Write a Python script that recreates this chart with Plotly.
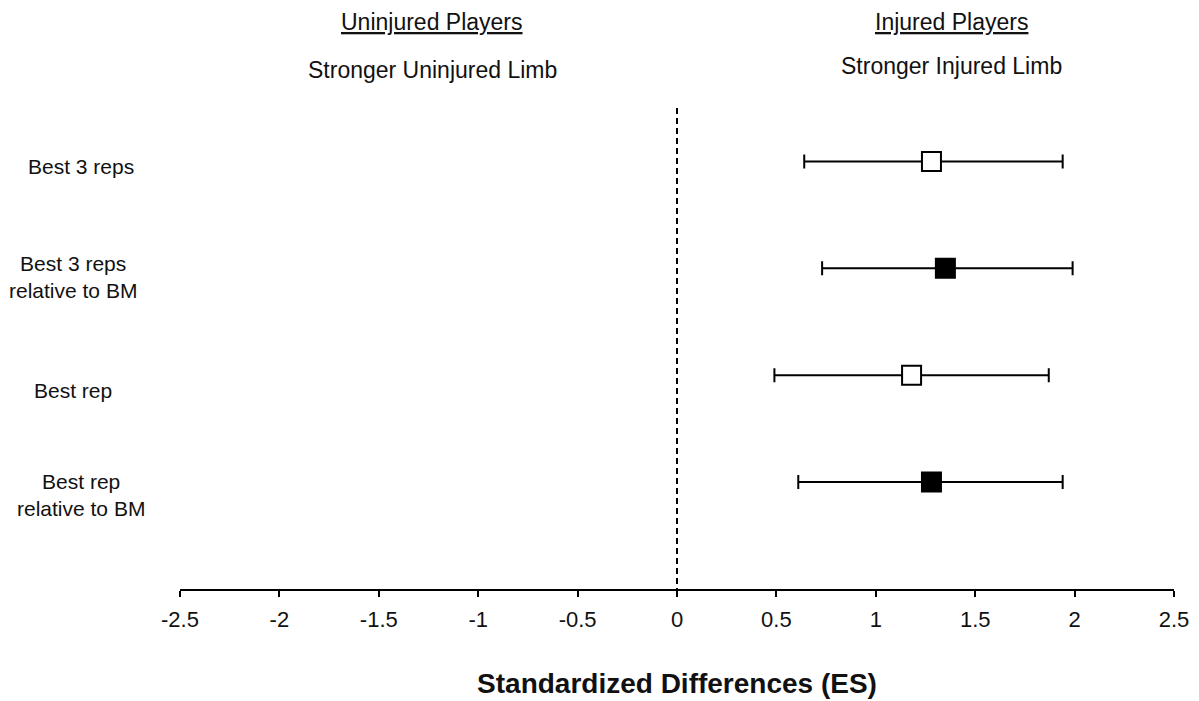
import plotly.graph_objects as go

categories = ["Best 3 reps", "Best 3 reps<br>relative to BM", "Best rep", "Best rep<br>relative to BM"]
es = [1.28, 1.35, 1.18, 1.28]
ci_low = [0.64, 0.73, 0.49, 0.61]
ci_high = [1.94, 1.99, 1.87, 1.94]
filled = [False, True, False, True]
rows = [1, 2, 3, 4]
tick_vals = [-2.5, -2, -1.5, -1, -0.5, 0, 0.5, 1, 1.5, 2, 2.5]
tick_text = ["-2.5", "-2", "-1.5", "-1", "-0.5", "0", "0.5", "1", "1.5", "2", "2.5"]

# placement of the row labels (x in paper units, y offset in row units)
label_x = [-0.0995, -0.108, -0.108, -0.1]
label_dy = [0.05, 0.085, 0.14, 0.12]

fig = go.Figure()
for i in range(len(categories)):
    fig.add_trace(go.Scatter(
        x=[es[i]], y=[rows[i]], mode="markers",
        marker=dict(symbol="square", size=19,
                    color="black" if filled[i] else "white",
                    line=dict(color="black", width=2)),
        error_x=dict(type="data", symmetric=False,
                     array=[ci_high[i] - es[i]], arrayminus=[es[i] - ci_low[i]],
                     color="black", thickness=2, width=7),
        showlegend=False, hoverinfo="skip"))

fig.add_shape(type="line", xref="x", yref="y", x0=0, x1=0, y0=0.5, y1=5,
              line=dict(color="black", width=2, dash="6px,4px"), layer="below")

ann = []
for i, c in enumerate(categories):
    ann.append(dict(text=c, xref="paper", yref="y", x=label_x[i], y=rows[i] + label_dy[i],
                    showarrow=False, xanchor="center", yanchor="middle", align="center",
                    font=dict(family="Liberation Sans", size=21, color="#111")))

head_font = dict(family="Liberation Sans", size=23, color="#111")
ann += [
    dict(text="Uninjured Players", xref="paper", yref="paper", x=0.254, y=1.179,
         xanchor="center", yanchor="middle", showarrow=False,
         font=dict(head_font, lineposition="under")),
    dict(text="Stronger Uninjured Limb", xref="paper", yref="paper", x=0.254, y=1.079,
         xanchor="center", yanchor="middle", showarrow=False, font=head_font),
    dict(text="Injured Players", xref="paper", yref="paper", x=0.776, y=1.179,
         xanchor="center", yanchor="middle", showarrow=False,
         font=dict(head_font, lineposition="under")),
    dict(text="Stronger Injured Limb", xref="paper", yref="paper", x=0.776, y=1.087,
         xanchor="center", yanchor="middle", showarrow=False, font=head_font),
]

fig.update_layout(
    width=1191, height=693,
    margin=dict(l=172, r=25, t=100, b=112),
    plot_bgcolor="white", paper_bgcolor="white",
    annotations=ann,
    xaxis=dict(range=[-2.5, 2.5], tickvals=tick_vals, ticktext=tick_text,
               showline=True, linecolor="black", linewidth=2, automargin=False,
               ticks="outside", ticklen=6, tickwidth=2, tickcolor="black",
               showgrid=False, zeroline=False, ticklabelstandoff=4,
               tickfont=dict(family="Liberation Sans", size=22, color="#111"),
               title=dict(text="<b>Standardized Differences (ES)</b>", standoff=42,
                          font=dict(family="Liberation Sans", size=28, color="#111"))),
    yaxis=dict(range=[5, 0.5], showticklabels=False, showgrid=False, zeroline=False,
               showline=False, ticks="", automargin=False),
)

fig.write_html("out.html")
